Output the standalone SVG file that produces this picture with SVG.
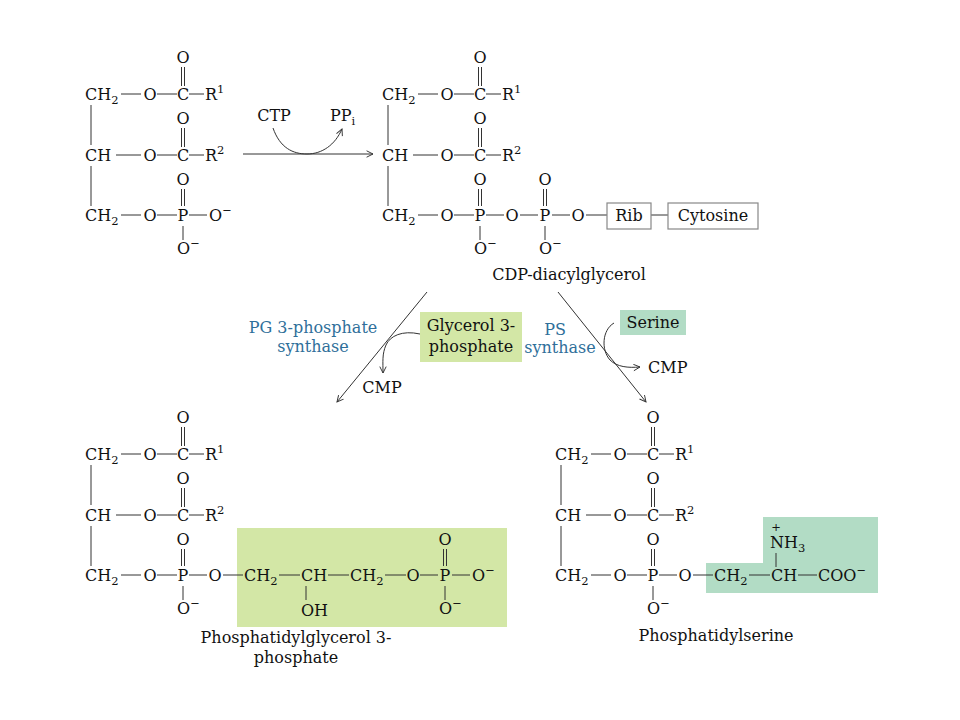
<svg xmlns="http://www.w3.org/2000/svg" width="960" height="720" viewBox="0 0 960 720">
<defs>
<style>
text{font-family:"DejaVu Serif","Liberation Serif",serif;font-size:16px;fill:#111}
.m{text-anchor:middle}
.s{font-size:11.5px}
.bl{fill:#2f6f9a}
.b{stroke:#333;stroke-width:1;fill:none}
.box{fill:#fff;stroke:#888;stroke-width:1.2}
</style>
<marker id="ah" viewBox="0 0 10 10" refX="9" refY="5" markerWidth="8" markerHeight="8" markerUnits="userSpaceOnUse" orient="auto"><path d="M1,1 L9,5 L1,9" fill="none" stroke="#333" stroke-width="1.2"/></marker>
</defs>
<rect width="960" height="720" fill="#fff"/>

<g id="phosphatidate">
<path class="b" d="M121,94H141M157,94H177M189,94H204M181.5,67V86M184.5,67V86M116,155H141M157,155H177M189,155H204M181.5,128V147M184.5,128V147M121,215H141M157,215H177M189,215H207M181.5,189V206M184.5,189V206M183,226V240M91,105V145M91,166V206"/>
<text x="85" y="100">CH<tspan class="s" dy="4">2</tspan></text>
<text x="150" y="100" class="m">O</text>
<text x="183" y="100" class="m">C</text>
<text x="205" y="100">R<tspan class="s" dy="-7">1</tspan></text>
<text x="183" y="63" class="m">O</text>
<text x="85" y="161">CH</text>
<text x="150" y="161" class="m">O</text>
<text x="183" y="161" class="m">C</text>
<text x="205" y="161">R<tspan class="s" dy="-7">2</tspan></text>
<text x="183" y="124" class="m">O</text>
<text x="85" y="221">CH<tspan class="s" dy="4">2</tspan></text>
<text x="150" y="221" class="m">O</text>
<text x="183" y="221" class="m">P</text>
<text x="209" y="221">O<tspan class="s" dy="-7">−</tspan></text>
<text x="183" y="185" class="m">O</text>
<text x="177" y="254">O<tspan class="s" dy="-7">−</tspan></text>
</g>

<g id="cdp-diacylglycerol" transform="translate(297,0)">
<path class="b" d="M121,94H141M157,94H177M189,94H204M181.5,67V86M184.5,67V86M116,155H141M157,155H177M189,155H204M181.5,128V147M184.5,128V147M121,215H141M157,215H177M189,215H207M181.5,189V206M184.5,189V206M183,226V240M91,105V145M91,166V206"/>
<text x="85" y="100">CH<tspan class="s" dy="4">2</tspan></text>
<text x="150" y="100" class="m">O</text>
<text x="183" y="100" class="m">C</text>
<text x="205" y="100">R<tspan class="s" dy="-7">1</tspan></text>
<text x="183" y="63" class="m">O</text>
<text x="85" y="161">CH</text>
<text x="150" y="161" class="m">O</text>
<text x="183" y="161" class="m">C</text>
<text x="205" y="161">R<tspan class="s" dy="-7">2</tspan></text>
<text x="183" y="124" class="m">O</text>
<text x="85" y="221">CH<tspan class="s" dy="4">2</tspan></text>
<text x="150" y="221" class="m">O</text>
<text x="183" y="221" class="m">P</text>
<text x="183" y="185" class="m">O</text>
<text x="177" y="254">O<tspan class="s" dy="-7">−</tspan></text>
<text x="215" y="221" class="m">O</text>
<path class="b" d="M223,215H241M255,215H273M289,215H310M354,215H371M246.5,189V206M249.5,189V206M248,226V240"/>
<text x="248" y="221" class="m">P</text>
<text x="248" y="185" class="m">O</text>
<text x="242" y="254">O<tspan class="s" dy="-7">−</tspan></text>
<text x="281" y="221" class="m">O</text>
<rect class="box" x="310" y="203" width="44" height="26"/>
<text x="332" y="221" class="m">Rib</text>
<rect class="box" x="371" y="203" width="90" height="26"/>
<text x="416" y="221" class="m">Cytosine</text>
<text x="272" y="280" class="m">CDP-diacylglycerol</text>
</g>

<g id="phosphatidylglycerol-3-phosphate" transform="translate(0,360)">
<rect x="237" y="168" width="270" height="99" fill="#d3e7a6"/>
<path class="b" d="M121,94H141M157,94H177M189,94H204M181.5,67V86M184.5,67V86M116,155H141M157,155H177M189,155H204M181.5,128V147M184.5,128V147M121,215H141M157,215H177M189,215H207M181.5,189V206M184.5,189V206M183,226V240M91,105V145M91,166V206"/>
<text x="85" y="100">CH<tspan class="s" dy="4">2</tspan></text>
<text x="150" y="100" class="m">O</text>
<text x="183" y="100" class="m">C</text>
<text x="205" y="100">R<tspan class="s" dy="-7">1</tspan></text>
<text x="183" y="63" class="m">O</text>
<text x="85" y="161">CH</text>
<text x="150" y="161" class="m">O</text>
<text x="183" y="161" class="m">C</text>
<text x="205" y="161">R<tspan class="s" dy="-7">2</tspan></text>
<text x="183" y="124" class="m">O</text>
<text x="85" y="221">CH<tspan class="s" dy="4">2</tspan></text>
<text x="150" y="221" class="m">O</text>
<text x="183" y="221" class="m">P</text>
<text x="183" y="185" class="m">O</text>
<text x="177" y="254">O<tspan class="s" dy="-7">−</tspan></text>
<text x="215" y="221" class="m">O</text>
<path class="b" d="M223,215H243M279,215H300M328,215H349M385,215H406M420,215H438M452,215H470M443.5,189V206M446.5,189V206M445,226V240M306,226V240"/>
<text x="244" y="221">CH<tspan class="s" dy="4">2</tspan></text>
<text x="301" y="221">CH</text>
<text x="350" y="221">CH<tspan class="s" dy="4">2</tspan></text>
<text x="413" y="221" class="m">O</text>
<text x="445" y="221" class="m">P</text>
<text x="445" y="185" class="m">O</text>
<text x="472" y="221">O<tspan class="s" dy="-7">−</tspan></text>
<text x="439" y="254">O<tspan class="s" dy="-7">−</tspan></text>
<text x="301" y="256">OH</text>
<text x="296" y="283" class="m">Phosphatidylglycerol 3-</text>
<text x="296" y="303" class="m">phosphate</text>
</g>

<g id="phosphatidylserine" transform="translate(470,360)">
<path d="M236,203H293V157H408V233H236Z" fill="#b2dcc5"/>
<path class="b" d="M121,94H141M157,94H177M189,94H204M181.5,67V86M184.5,67V86M116,155H141M157,155H177M189,155H204M181.5,128V147M184.5,128V147M121,215H141M157,215H177M189,215H207M181.5,189V206M184.5,189V206M183,226V240M91,105V145M91,166V206"/>
<text x="85" y="100">CH<tspan class="s" dy="4">2</tspan></text>
<text x="150" y="100" class="m">O</text>
<text x="183" y="100" class="m">C</text>
<text x="205" y="100">R<tspan class="s" dy="-7">1</tspan></text>
<text x="183" y="63" class="m">O</text>
<text x="85" y="161">CH</text>
<text x="150" y="161" class="m">O</text>
<text x="183" y="161" class="m">C</text>
<text x="205" y="161">R<tspan class="s" dy="-7">2</tspan></text>
<text x="183" y="124" class="m">O</text>
<text x="85" y="221">CH<tspan class="s" dy="4">2</tspan></text>
<text x="150" y="221" class="m">O</text>
<text x="183" y="221" class="m">P</text>
<text x="183" y="185" class="m">O</text>
<text x="177" y="254">O<tspan class="s" dy="-7">−</tspan></text>
<text x="215" y="221" class="m">O</text>
<path class="b" d="M223,215H243M279,215H300M328,215H347M306,193V207"/>
<text x="244" y="221">CH<tspan class="s" dy="4">2</tspan></text>
<text x="301" y="221">CH</text>
<text x="348" y="221">COO<tspan class="s" dy="-7">−</tspan></text>
<text x="300" y="188">NH<tspan class="s" dy="4">3</tspan></text>
<text x="306" y="171" class="m s">+</text>
<text x="246" y="281" class="m">Phosphatidylserine</text>
</g>

<g id="cofactors">
<text x="274" y="121" class="m">CTP</text>
<text x="330" y="121">PP<tspan class="s" dy="4">i</tspan></text>
<text x="313" y="333" class="m bl">PG 3-phosphate</text>
<text x="313" y="352" class="m bl">synthase</text>
<rect x="420" y="312" width="102" height="50" fill="#d3e7a6"/>
<text x="471" y="331" class="m">Glycerol 3-</text>
<text x="471" y="352" class="m">phosphate</text>
<text x="382" y="393" class="m">CMP</text>
<text x="555" y="335" class="m bl">PS</text>
<text x="560" y="353" class="m bl">synthase</text>
<rect x="620" y="310" width="66" height="25" fill="#b2dcc5"/>
<text x="653" y="328" class="m">Serine</text>
<text x="648" y="373">CMP</text>
</g>

<g id="connectors" class="b">
<path class="b" d="M243,154H373" marker-end="url(#ah)"/>
<path class="b" d="M273,128C280,148 293,154 307,154C322,154 335,145 342,129" marker-end="url(#ah)"/>
<path class="b" d="M427,292L337,402" marker-end="url(#ah)"/>
<path class="b" d="M558,292L646,402" marker-end="url(#ah)"/>
<path class="b" d="M420,334C402,330 390,336 386,345C382,354 383,362 383,373" marker-end="url(#ah)"/>
<path class="b" d="M614,323C602,330 601,350 610,360C617,367 628,368 640,367" marker-end="url(#ah)"/>
</g>
</svg>
